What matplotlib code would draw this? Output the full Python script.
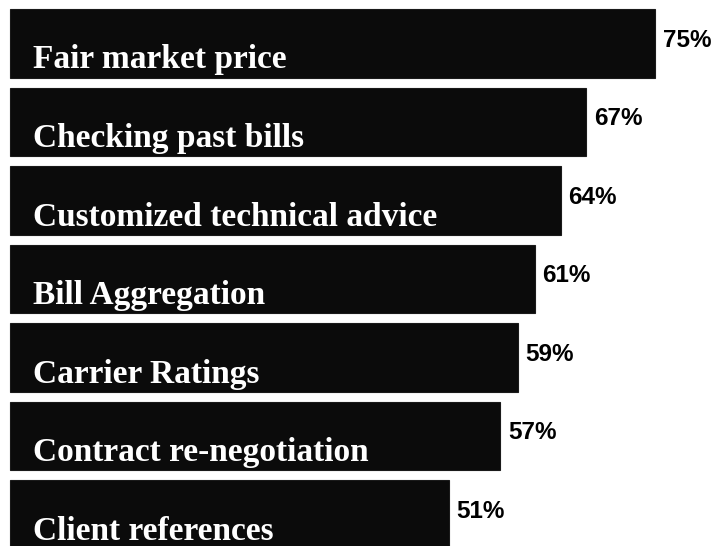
import matplotlib.pyplot as plt

labels = ["Fair market price", "Checking past bills", "Customized technical advice",
          "Bill Aggregation", "Carrier Ratings", "Contract re-negotiation",
          "Client references"]
values = [75, 67, 64, 61, 59, 57, 51]

fig = plt.figure(figsize=(7.19, 5.46), dpi=100)
ax = fig.add_axes([0, 0, 1, 1])

pos = list(range(len(values)))
ax.barh(pos, values, height=0.87, color="#0b0b0b", edgecolor="#1a1a1a", linewidth=0.8)

for p, lab, v in zip(pos, labels, values):
    # category name sits low inside the bar, white serif
    ax.text(2.7, p + 0.21, lab, color="white", fontsize=24, fontweight="bold",
            family="Liberation Serif", va="center", ha="left")
    ax.text(v + 0.9, p - 0.04, f"{v}%", color="black", fontsize=17.5, fontweight="bold",
            family="Liberation Sans", va="center", ha="left")

ax.set_xlim(-1.16, 82.4)
ax.set_ylim(6.40, -0.554)
ax.axis("off")

fig.savefig("out.png", dpi=100, facecolor="white")
